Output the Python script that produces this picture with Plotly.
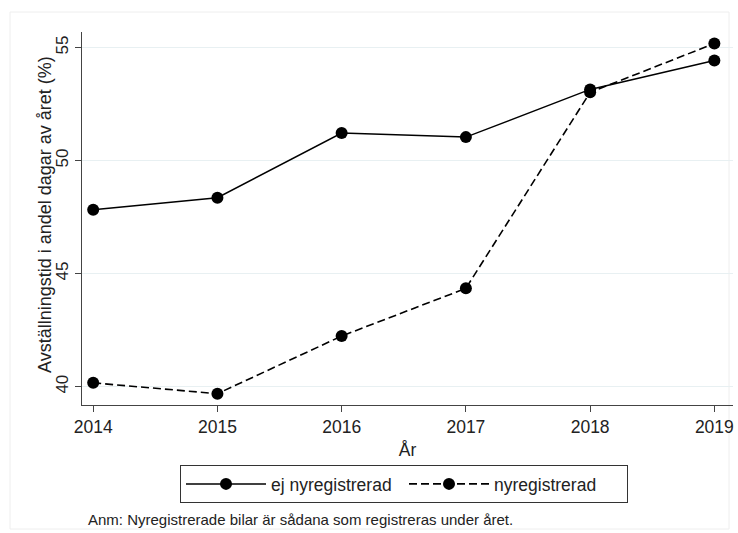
import plotly.graph_objects as go

years = [2014, 2015, 2016, 2017, 2018, 2019]
ej_nyreg = [47.83, 48.36, 51.22, 51.04, 53.15, 54.43]
nyreg = [40.17, 39.69, 42.24, 44.35, 53.02, 55.18]
y_ticks = [40, 45, 50, 55]

W, H = 738, 533
L, R, T, B = 82, 5, 32, 128
pw, ph = W - L - R, H - T - B

def px_x(p):
    return (p - L) / pw

def px_y(p):
    return (H - B - p) / ph

fig = go.Figure()
fig.add_trace(go.Scatter(
    x=years, y=ej_nyreg, mode="lines+markers", name="ej nyregistrerad",
    line=dict(color="black", width=1.5),
    marker=dict(color="black", size=12, symbol="circle"),
))
fig.add_trace(go.Scatter(
    x=years, y=nyreg, mode="lines+markers", name="nyregistrerad",
    line=dict(color="black", width=1.6, dash="8px,4px"),
    marker=dict(color="black", size=12, symbol="circle"),
))

fig.update_layout(
    width=W, height=H,
    margin=dict(l=L, r=R, t=T, b=B, autoexpand=False),
    paper_bgcolor="white", plot_bgcolor="white",
    font=dict(family="Arial, Liberation Sans, sans-serif", color="#222222", size=17),
    showlegend=True,
    legend=dict(
        orientation="h", x=px_x(180), xanchor="left", y=px_y(465), yanchor="top",
        bordercolor="#333333", borderwidth=1, font=dict(size=17.5, color="#222222"),
        entrywidth=128, itemwidth=80, tracegroupgap=0,
    ),
    xaxis=dict(
        range=[2013.91, 2019.15], tickvals=years, ticktext=[str(y) for y in years],
        showgrid=False, zeroline=False, showline=True, linecolor="#444444", linewidth=1,
        ticks="outside", ticklen=6, tickcolor="#444444", automargin=False,
        tickfont=dict(size=17.5), title=dict(text="År", font=dict(size=17.5), standoff=7),
    ),
    yaxis=dict(
        range=[39.19, 55.69], tickvals=y_ticks, ticktext=[str(v) for v in y_ticks],
        tickangle=-90, automargin=False,
        showgrid=True, gridcolor="#e8f0f2", gridwidth=1, zeroline=False,
        showline=True, linecolor="#444444", linewidth=1,
        ticks="outside", ticklen=6, tickcolor="#444444",
        tickfont=dict(size=17),
    ),
    annotations=[
        dict(
            text="Avställningstid i andel dagar av året (%)",
            xref="paper", yref="paper", x=px_x(45), y=px_y(215), xanchor="center", yanchor="middle",
            textangle=-90, showarrow=False, font=dict(size=18, color="#222222"),
        ),
        dict(
            text="Anm: Nyregistrerade bilar är sådana som registreras under året.",
            xref="paper", yref="paper", x=px_x(86), y=px_y(519), xanchor="left", yanchor="middle",
            showarrow=False, font=dict(size=15, color="#222222"),
        ),
    ],
    shapes=[dict(
        type="rect", xref="paper", yref="paper",
        x0=px_x(10), x1=px_x(729), y0=px_y(529), y1=px_y(12),
        line=dict(color="#eeeeee", width=1), layer="below",
    )],
)

fig.write_html("out.html", post_script="document.body.style.margin='0';",
               config={"displayModeBar": False})
